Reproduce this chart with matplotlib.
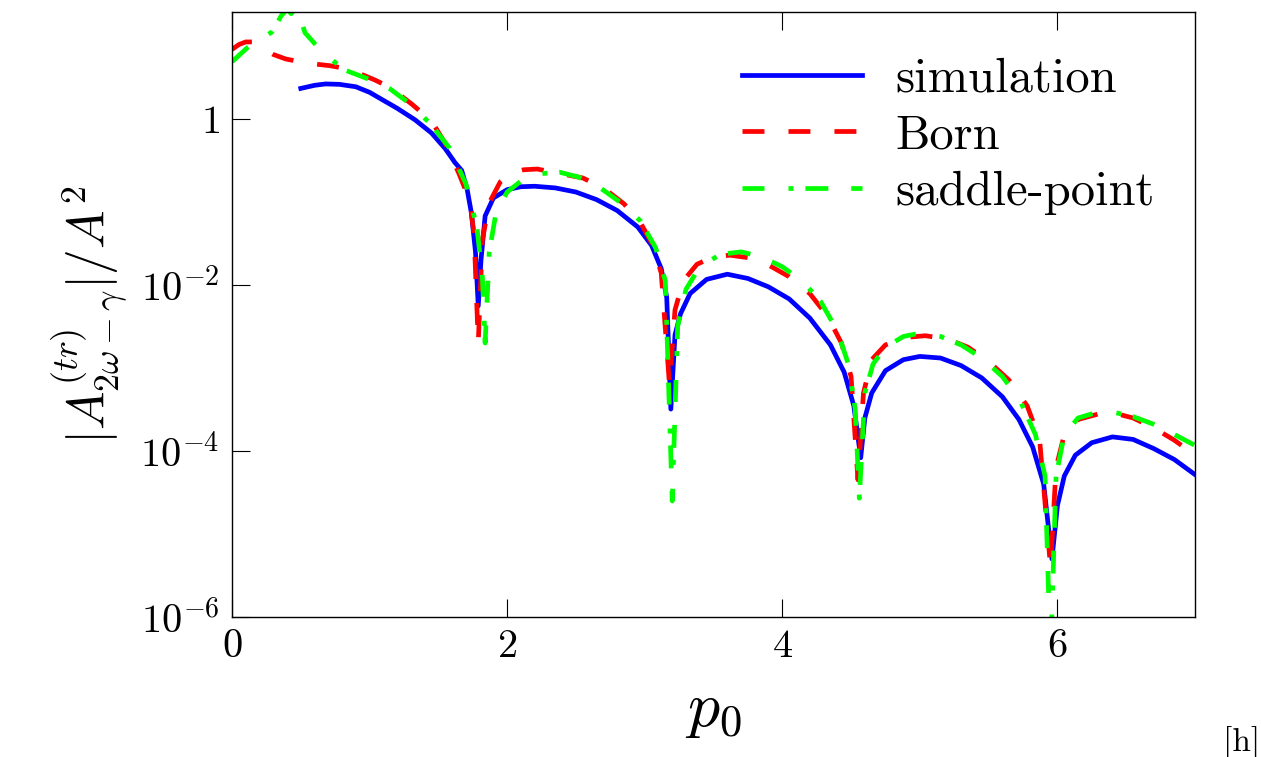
import numpy as np
import matplotlib
matplotlib.use("Agg")
import matplotlib.pyplot as plt
from matplotlib.ticker import FixedLocator, FixedFormatter, NullLocator

plt.rcParams['font.family'] = 'serif'
plt.rcParams['font.serif'] = ['cmr10', 'DejaVu Serif']
plt.rcParams['mathtext.fontset'] = 'cm'
plt.rcParams['axes.formatter.use_mathtext'] = True
plt.rcParams['lines.scale_dashes'] = False

# simulation (blue, solid)
p_sim = [0.50, 0.60, 0.68, 0.78, 0.90, 1.00, 1.09, 1.20, 1.33, 1.45, 1.55, 1.62, 1.67, 1.71, 1.74, 1.77, 1.79,
         1.81, 1.84, 1.90, 2.00, 2.10, 2.20, 2.35, 2.50, 2.65, 2.80, 2.95, 3.05, 3.12, 3.16, 3.19,
         3.22, 3.26, 3.33, 3.45, 3.60, 3.75, 3.90, 4.05, 4.20, 4.35, 4.45, 4.52, 4.57,
         4.60, 4.65, 4.75, 4.88, 5.00, 5.15, 5.30, 5.45, 5.60, 5.72, 5.82, 5.90, 5.96,
         6.00, 6.05, 6.13, 6.25, 6.40, 6.55, 6.70, 6.85, 7.00]
a_sim = [2.34, 2.55, 2.65, 2.62, 2.45, 2.10, 1.72, 1.35, 0.98, 0.68, 0.44, 0.30, 0.24, 0.14, 0.074, 0.025, 0.0056,
         0.02, 0.068, 0.112, 0.141, 0.153, 0.155, 0.148, 0.132, 0.107, 0.079, 0.050, 0.030, 0.0158, 0.0071, 3.2e-4,
         2.5e-3, 4.5e-3, 7.9e-3, 0.0117, 0.0135, 0.012, 0.0095, 6.8e-3, 4.0e-3, 1.9e-3, 8.9e-4, 3.5e-4, 8.3e-5,
         2.5e-4, 5.0e-4, 9.3e-4, 1.26e-3, 1.38e-3, 1.32e-3, 1.07e-3, 7.6e-4, 4.5e-4, 2.4e-4, 1.12e-4, 4.0e-5, 5.0e-6,
         2.2e-5, 5.0e-5, 8.9e-5, 1.26e-4, 1.48e-4, 1.38e-4, 1.07e-4, 7.9e-5, 5.2e-5]

# Born (red, dashed)
p_born = [0.00, 0.05, 0.10, 0.15, 0.22, 0.30, 0.39, 0.55, 0.71, 0.85, 1.04, 1.15, 1.31, 1.45, 1.55, 1.65, 1.69, 1.73, 1.76, 1.79,
          1.82, 1.87, 1.95, 2.03, 2.12, 2.22, 2.33, 2.45, 2.55, 2.70, 2.85, 2.97, 3.06, 3.12, 3.18,
          3.22, 3.28, 3.38, 3.50, 3.62, 3.75, 3.90, 4.05, 4.20, 4.33, 4.43, 4.50, 4.55,
          4.59, 4.65, 4.75, 4.90, 5.04, 5.20, 5.35, 5.50, 5.65, 5.78, 5.87, 5.95,
          5.99, 6.05, 6.15, 6.30, 6.40, 6.55, 6.70, 6.85, 7.00]
a_born = [6.9, 7.9, 8.5, 8.5, 7.2, 6.0, 5.3, 4.7, 4.4, 4.0, 2.95, 2.4, 1.5, 0.95, 0.51, 0.22, 0.15, 0.10, 0.04, 2.0e-3,
          0.035, 0.098, 0.175, 0.224, 0.245, 0.25, 0.229, 0.21, 0.195, 0.148, 0.095, 0.056, 0.030, 0.014, 6.3e-4,
          5.0e-3, 0.0112, 0.0178, 0.0219, 0.0229, 0.0214, 0.0174, 0.0126, 7.9e-3, 4.2e-3, 2.0e-3, 7.9e-4, 4.5e-5,
          5.0e-4, 1.26e-3, 1.9e-3, 2.34e-3, 2.45e-3, 2.24e-3, 1.78e-3, 1.2e-3, 7.1e-4, 3.5e-4, 1.4e-4, 4.0e-6,
          6.3e-5, 1.58e-4, 2.4e-4, 2.8e-4, 2.9e-4, 2.5e-4, 1.9e-4, 1.35e-4, 8.9e-5]

# saddle-point (green, dash-dot)
p_sad = [0.00, 0.11, 0.20, 0.29, 0.36, 0.40, 0.43, 0.46, 0.50, 0.53, 0.66, 0.82, 1.00, 1.15, 1.30, 1.45, 1.58, 1.70, 1.78, 1.82, 1.84,
         1.87, 1.92, 2.00, 2.12, 2.25, 2.38, 2.52, 2.67, 2.82, 2.97, 3.08, 3.15, 3.20,
         3.24, 3.30, 3.40, 3.55, 3.70, 3.85, 4.00, 4.15, 4.28, 4.40, 4.48, 4.53, 4.56,
         4.60, 4.66, 4.75, 4.88, 5.00, 5.15, 5.30, 5.45, 5.60, 5.73, 5.84, 5.91, 5.95,
         5.99, 6.05, 6.15, 6.28, 6.40, 6.55, 6.70, 6.85, 7.00]
a_sad = [4.9, 7.2, 9.0, 11.2, 17.8, 21.0, 18.6, 21.0, 15.8, 11.0, 6.3, 3.9, 3.0, 2.3, 1.5, 0.85, 0.45, 0.166, 0.05, 0.0126, 2.0e-3,
         0.025, 0.076, 0.132, 0.19, 0.22, 0.229, 0.20, 0.151, 0.10, 0.059, 0.028, 0.0112, 2.5e-5,
         3.2e-3, 8.9e-3, 0.0166, 0.0234, 0.0251, 0.0219, 0.0166, 0.011, 6.3e-3, 2.8e-3, 1.12e-3, 3.2e-4, 2.7e-5,
         5.0e-4, 1.12e-3, 1.78e-3, 2.4e-3, 2.63e-3, 2.4e-3, 1.9e-3, 1.32e-3, 7.9e-4, 4.0e-4, 1.58e-4, 5.0e-5, 3.2e-7,
         5.0e-5, 1.58e-4, 2.5e-4, 2.9e-4, 2.95e-4, 2.6e-4, 2.1e-4, 1.58e-4, 1.17e-4]

xticks = [0, 2, 4, 6]
xtick_labels = ['$0$', '$2$', '$4$', '$6$']
yticks = [1e-6, 1e-4, 1e-2, 1]
ytick_labels = ['$10^{-6}$', '$10^{-4}$', '$10^{-2}$', '$1$']

fig = plt.figure(figsize=(12.61, 7.57), dpi=100)
ax = fig.add_axes([232/1261, 1-617/757, (1195-232)/1261, (617-12)/757])

lw = 3.4
ax.plot(p_sim, a_sim, color=(0, 0, 1), lw=lw, label='simulation')
ax.plot(p_born, a_born, color=(1, 0, 0), lw=lw, linestyle=(0, (15.8, 17.3)), label='Born')
ax.plot(p_sad, a_sad, color=(0, 1, 0), lw=lw, linestyle=(0, (15.8, 17.3, 3.6, 8.6, 16.5, 16.5)),
        label='saddle-point')

ax.set_yscale('log')
ax.set_xlim(0, 7)
ax.set_ylim(1e-6, 19.5)
ax.xaxis.set_major_locator(FixedLocator(xticks))
ax.xaxis.set_major_formatter(FixedFormatter(xtick_labels))
ax.yaxis.set_major_locator(FixedLocator(yticks))
ax.yaxis.set_major_formatter(FixedFormatter(ytick_labels))
ax.yaxis.set_minor_locator(NullLocator())
ax.xaxis.set_minor_locator(NullLocator())
ax.tick_params(direction='in', length=13, width=0.8, labelsize=29, top=True, right=False, pad=9)
for s in ax.spines.values():
    s.set_linewidth(1.0)

ax.set_xlabel('$p_0$', fontsize=46, labelpad=12)
ax.set_ylabel(r'$|A^{(tr)}_{2\omega-\gamma}|/A^2$', fontsize=37, labelpad=8)

ax.legend(loc='upper right', frameon=False, fontsize=35, handlelength=2.46, handletextpad=0.68,
          labelspacing=0.25, borderaxespad=0.0, bbox_to_anchor=(0.978, 0.957))

fig.text(1260/1261, -2/757, '[h]', fontsize=24, ha='right', va='bottom')

fig.savefig('out.png', dpi=100)
